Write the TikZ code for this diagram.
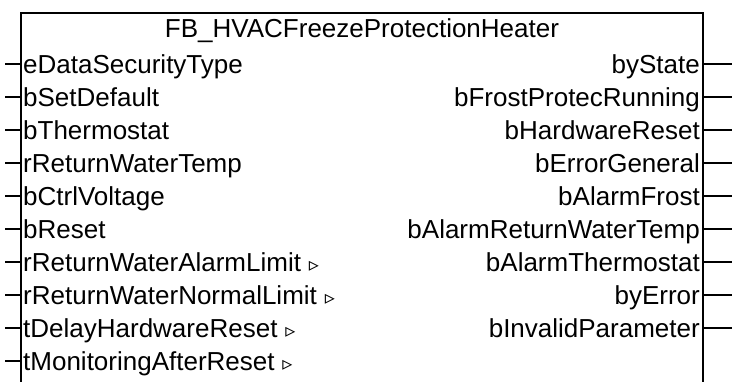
\documentclass[tikz,border=0pt]{standalone}
\usepackage{fontspec}
\setmainfont{Liberation Sans}
\newfontfamily\symfont{DejaVu Sans}
\newcommand{\tri}{\hspace{0.3em}{\symfont\fontsize{20}{20}\selectfont ▹}}
\begin{document}
\begin{tikzpicture}[x=1pt,y=-1pt,
    pinlabel/.style={inner sep=0pt,font=\fontsize{26}{30}\selectfont},
    pinline/.style={line width=1.8pt}]

    \useasboundingbox (0,0) rectangle (732,381);

    % block edges and rows
    \pgfmathsetmacro{\bl}{21}
    \pgfmathsetmacro{\br}{703}
    \pgfmathsetmacro{\bt}{13}
    \pgfmathsetmacro{\rowA}{64}
    \pgfmathsetmacro{\dy}{33}

    % block outline, open at the bottom
    \draw[line width=2pt] (\bl,395) -- (\bl,\bt) -- (\br,\bt) -- (\br,395);

    % title
    \node[pinlabel] (title) at ({(\bl+\br)/2},31) {FB\_HVACFreezeProtectionHeater};

    % inputs
    \foreach \name [count=\i from 0] in {eDataSecurityType,bSetDefault,bThermostat,
        rReturnWaterTemp,bCtrlVoltage,bReset,{rReturnWaterAlarmLimit\tri},
        {rReturnWaterNormalLimit\tri},{tDelayHardwareReset\tri},{tMonitoringAfterReset\tri}} {
        \pgfmathsetmacro{\y}{\rowA+\i*\dy}
        \node[pinlabel,anchor=base west] (in\i) at (\bl+2,\y+9.3) {\name};
        \coordinate (inpin\i) at (5,\y);
        \coordinate (inend\i) at (\bl,\y);
        \draw[pinline] (inpin\i) -- (inend\i);
    }

    % outputs
    \foreach \name [count=\i from 0] in {byState,bFrostProtecRunning,bHardwareReset,
        bErrorGeneral,bAlarmFrost,bAlarmReturnWaterTemp,bAlarmThermostat,byError,
        bInvalidParameter} {
        \pgfmathsetmacro{\y}{\rowA+\i*\dy}
        \node[pinlabel,anchor=base east] (out\i) at (\br-3,\y+9.3) {\name};
        \coordinate (outend\i) at (\br,\y);
        \coordinate (outpin\i) at (732,\y);
        \draw[pinline] (outend\i) -- (outpin\i);
    }

\end{tikzpicture}
\end{document}
